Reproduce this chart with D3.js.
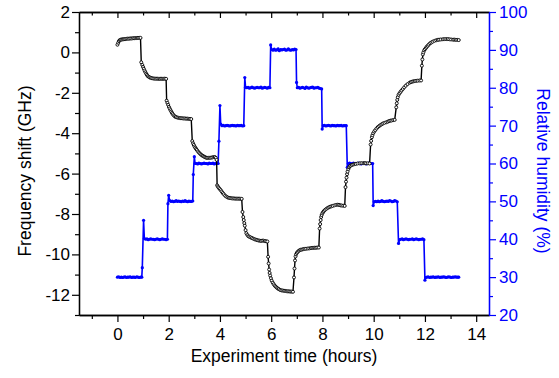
<!DOCTYPE html>
<html><head><meta charset="utf-8">
<script src="https://cdn.jsdelivr.net/npm/d3@7"></script>
<style>
body{margin:0;background:#fff}
svg{display:block}
text{font-family:"Liberation Sans",Arial,Helvetica,sans-serif}
</style>
</head><body>
<svg id="c" width="559" height="378"></svg>
<script>
// ---- data ----
const xTickValues = [0, 2, 4, 6, 8, 10, 12, 14];
const xMinorValues = [-1, 1, 3, 5, 7, 9, 11, 13];
const freqTickValues = [-12, -10, -8, -6, -4, -2, 0, 2];
const freqMinorValues = [-13, -11, -9, -7, -5, -3, -1, 1];
const rhTickValues = [20, 30, 40, 50, 60, 70, 80, 90, 100];
const rhMinorValues = [25, 35, 45, 55, 65, 75, 85, 95];

const xLabel = "Experiment time (hours)";
const freqLabel = "Frequency shift (GHz)";
const rhLabel = "Relative humidity (%)";

// [hours, GHz]
const frequencyShift = [
[0.00,0.38],[0.03,0.48],[0.06,0.56],[0.09,0.61],[0.13,0.63],[0.17,0.64],[0.21,0.65],[0.25,0.65],[0.30,0.66],[0.35,0.67],[0.40,0.68],[0.45,0.68],[0.50,0.69],[0.55,0.69],[0.60,0.70],[0.65,0.70],[0.70,0.71],[0.75,0.71],[0.80,0.72],[0.85,0.72],[0.90,0.72],
[0.93,-0.49],[0.97,-0.62],[1.00,-0.72],[1.03,-0.81],[1.06,-0.90],[1.09,-0.98],[1.12,-1.05],[1.15,-1.11],[1.18,-1.17],[1.22,-1.21],[1.26,-1.24],[1.30,-1.26],[1.35,-1.28],[1.40,-1.29],[1.45,-1.30],[1.50,-1.30],[1.55,-1.30],[1.60,-1.31],[1.65,-1.31],[1.70,-1.30],[1.75,-1.31],[1.80,-1.31],[1.85,-1.30],[1.90,-1.31],
[1.92,-2.39],[1.95,-2.50],[1.98,-2.60],[2.01,-2.70],[2.04,-2.78],[2.07,-2.86],[2.10,-2.93],[2.13,-3.00],[2.16,-3.06],[2.20,-3.12],[2.24,-3.17],[2.28,-3.20],[2.33,-3.22],[2.38,-3.24],[2.43,-3.25],[2.48,-3.26],[2.53,-3.26],[2.58,-3.27],[2.63,-3.27],[2.68,-3.28],[2.73,-3.28],[2.78,-3.29],[2.83,-3.29],[2.88,-3.30],
[2.92,-4.39],[2.95,-4.50],[2.98,-4.58],[3.01,-4.66],[3.04,-4.72],[3.07,-4.78],[3.10,-4.83],[3.14,-4.90],[3.18,-4.96],[3.22,-5.01],[3.26,-5.06],[3.30,-5.10],[3.34,-5.13],[3.38,-5.16],[3.42,-5.19],[3.46,-5.21],[3.50,-5.22],[3.55,-5.22],[3.60,-5.22],[3.65,-5.21],[3.70,-5.20],[3.75,-5.18],[3.80,-5.18],[3.84,-5.22],[3.87,-5.32],
[3.89,-6.58],[3.92,-6.64],[3.95,-6.70],[3.99,-6.76],[4.03,-6.82],[4.07,-6.89],[4.11,-6.96],[4.15,-7.02],[4.20,-7.09],[4.25,-7.14],[4.30,-7.18],[4.35,-7.20],[4.40,-7.21],[4.45,-7.22],[4.50,-7.23],[4.55,-7.23],[4.60,-7.24],[4.65,-7.24],[4.70,-7.24],[4.75,-7.24],[4.80,-7.25],[4.85,-7.25],
[4.88,-7.90],[4.91,-8.15],[4.93,-8.30],[4.95,-8.45],[4.97,-8.58],[5.00,-8.80],[5.03,-8.95],[5.07,-9.04],[5.11,-9.10],[5.15,-9.13],[5.20,-9.16],[5.25,-9.19],[5.30,-9.22],[5.35,-9.25],[5.40,-9.27],[5.45,-9.29],[5.50,-9.31],[5.55,-9.32],[5.60,-9.33],[5.65,-9.32],[5.70,-9.32],[5.75,-9.34],[5.80,-9.35],[5.85,-9.36],
[5.88,-10.12],[5.90,-10.45],[5.92,-10.75],[5.94,-10.92],[5.96,-11.05],[5.99,-11.18],[6.02,-11.30],[6.06,-11.40],[6.10,-11.48],[6.14,-11.55],[6.18,-11.60],[6.22,-11.65],[6.26,-11.69],[6.30,-11.72],[6.35,-11.76],[6.40,-11.78],[6.45,-11.79],[6.50,-11.80],[6.55,-11.81],[6.60,-11.82],[6.65,-11.83],[6.70,-11.83],[6.75,-11.84],[6.80,-11.84],[6.85,-11.85],
[6.89,-11.14],[6.91,-10.70],[6.93,-10.30],[6.95,-10.10],[6.97,-10.00],[7.00,-9.93],[7.03,-9.88],[7.07,-9.83],[7.11,-9.79],[7.15,-9.77],[7.20,-9.76],[7.25,-9.74],[7.30,-9.73],[7.36,-9.72],[7.43,-9.71],[7.49,-9.70],[7.55,-9.69],[7.60,-9.68],[7.65,-9.68],[7.70,-9.67],[7.75,-9.67],[7.80,-9.66],[7.86,-9.66],
[7.89,-8.72],[7.91,-8.50],[7.93,-8.30],[7.95,-8.15],[7.97,-8.05],[8.00,-7.96],[8.03,-7.90],[8.06,-7.85],[8.10,-7.80],[8.15,-7.75],[8.20,-7.70],[8.25,-7.67],[8.30,-7.64],[8.35,-7.62],[8.40,-7.60],[8.47,-7.57],[8.54,-7.55],[8.60,-7.54],[8.65,-7.55],[8.70,-7.57],[8.75,-7.58],[8.81,-7.59],[8.87,-7.60],
[8.90,-6.67],[8.92,-6.40],[8.94,-6.20],[8.96,-6.03],[8.98,-5.90],[9.01,-5.78],[9.04,-5.69],[9.07,-5.64],[9.10,-5.60],[9.15,-5.57],[9.20,-5.55],[9.25,-5.53],[9.30,-5.52],[9.37,-5.50],[9.45,-5.49],[9.52,-5.48],[9.60,-5.48],[9.65,-5.48],[9.70,-5.49],[9.77,-5.49],[9.84,-5.50],
[9.88,-4.56],[9.90,-4.38],[9.93,-4.20],[9.95,-4.10],[9.98,-4.00],[10.02,-3.92],[10.06,-3.85],[10.11,-3.77],[10.16,-3.70],[10.21,-3.65],[10.26,-3.60],[10.31,-3.56],[10.36,-3.52],[10.42,-3.49],[10.49,-3.46],[10.55,-3.43],[10.60,-3.40],[10.65,-3.38],[10.70,-3.37],[10.76,-3.35],[10.82,-3.34],
[10.88,-2.72],[10.90,-2.52],[10.92,-2.35],[10.94,-2.22],[10.97,-2.10],[11.01,-2.02],[11.05,-1.95],[11.09,-1.88],[11.14,-1.81],[11.19,-1.73],[11.25,-1.65],[11.32,-1.57],[11.40,-1.50],[11.45,-1.47],[11.50,-1.45],[11.55,-1.43],[11.60,-1.42],[11.66,-1.41],[11.72,-1.40],[11.79,-1.39],[11.85,-1.39],
[11.88,-0.66],[11.90,-0.35],[11.92,-0.10],[11.94,0.00],[11.97,0.10],[12.00,0.16],[12.04,0.22],[12.07,0.28],[12.11,0.33],[12.15,0.39],[12.20,0.45],[12.25,0.49],[12.30,0.53],[12.37,0.57],[12.44,0.60],[12.50,0.62],[12.55,0.63],[12.62,0.64],[12.70,0.65],[12.76,0.66],[12.83,0.66],[12.89,0.66],[12.95,0.65],[13.02,0.64],[13.10,0.63],[13.15,0.63],[13.20,0.62],[13.26,0.62],[13.32,0.61]
];

// [hours, %RH]
const relativeHumidity = [
[0.00,30.0],[0.05,30.1],[0.10,29.9],[0.15,30.0],[0.20,29.9],[0.25,30.0],[0.30,30.1],[0.35,29.9],[0.40,30.0],[0.45,30.0],[0.50,30.1],[0.55,29.9],[0.60,30.0],[0.65,30.0],[0.70,29.9],[0.75,30.1],[0.80,30.0],[0.85,29.9],[0.90,30.0],[0.95,30.0],
[0.97,32.5],[1.02,45.0],[1.05,40.2],[1.10,40.0],[1.15,40.1],[1.20,39.9],[1.25,40.0],[1.30,40.1],[1.35,40.0],[1.40,40.0],[1.45,39.9],[1.50,40.0],[1.55,40.1],[1.60,40.0],[1.65,39.9],[1.70,40.0],[1.75,40.1],[1.80,40.0],[1.85,40.0],[1.90,39.9],[1.95,40.0],
[1.97,49.4],[2.00,51.6],[2.04,50.2],[2.09,50.0],[2.14,50.1],[2.19,49.9],[2.24,50.0],[2.29,50.2],[2.34,50.0],[2.39,50.1],[2.44,50.0],[2.49,49.9],[2.54,50.1],[2.59,50.0],[2.64,50.2],[2.69,50.0],[2.74,49.9],[2.79,50.1],[2.84,50.0],[2.89,50.0],[2.94,50.1],
[2.96,57.1],[3.00,61.8],[3.03,60.0],[3.08,60.0],[3.13,59.9],[3.18,60.1],[3.23,60.0],[3.28,59.9],[3.33,60.0],[3.38,60.1],[3.43,60.0],[3.48,60.0],[3.53,59.9],[3.58,60.1],[3.63,60.0],[3.68,60.0],[3.73,60.1],[3.78,59.9],[3.83,60.0],[3.88,60.0],[3.93,60.0],
[3.96,65.9],[4.00,75.3],[4.03,70.4],[4.08,70.0],[4.13,70.1],[4.18,69.9],[4.23,70.0],[4.28,70.1],[4.33,70.0],[4.38,69.9],[4.43,70.0],[4.48,70.1],[4.53,70.0],[4.58,70.0],[4.63,69.9],[4.68,70.1],[4.73,70.0],[4.78,70.0],[4.83,70.1],[4.88,69.9],[4.93,70.0],
[4.97,82.7],[5.00,80.1],[5.05,80.0],[5.10,80.1],[5.15,79.9],[5.20,80.0],[5.25,80.2],[5.30,80.0],[5.35,79.9],[5.40,80.0],[5.45,80.1],[5.50,80.0],[5.55,80.0],[5.60,80.2],[5.65,79.9],[5.70,80.0],[5.75,80.1],[5.80,80.0],[5.85,79.9],[5.90,80.1],[5.95,80.0],
[5.98,91.3],[6.02,90.1],[6.07,89.9],[6.12,90.2],[6.17,89.9],[6.22,90.0],[6.27,90.3],[6.32,89.8],[6.37,90.1],[6.42,90.0],[6.47,90.1],[6.52,90.2],[6.57,89.9],[6.62,90.0],[6.67,90.3],[6.72,90.0],[6.77,89.9],[6.82,90.1],[6.87,90.0],[6.92,90.2],[6.97,90.1],
[6.99,81.4],[7.02,80.0],[7.07,80.1],[7.12,79.9],[7.17,80.0],[7.22,80.1],[7.27,80.0],[7.32,79.8],[7.37,80.2],[7.42,80.0],[7.47,79.9],[7.52,80.0],[7.57,80.1],[7.62,80.2],[7.67,79.9],[7.72,80.0],[7.77,80.0],[7.82,80.1],[7.87,79.9],[7.92,79.8],[7.97,79.7],
[7.99,69.1],[8.03,70.0],[8.08,70.1],[8.13,69.9],[8.18,70.0],[8.23,70.1],[8.28,70.0],[8.33,69.9],[8.38,70.1],[8.43,70.0],[8.48,70.0],[8.53,69.9],[8.58,70.1],[8.63,70.0],[8.68,70.0],[8.73,70.1],[8.78,69.9],[8.83,70.0],[8.88,70.0],[8.93,70.0],
[8.97,59.0],[9.01,60.0],[9.06,60.1],[9.11,59.9],[9.16,60.0],[9.21,60.1],[9.26,59.9],[9.31,60.0],[9.36,60.0],[9.41,60.1],[9.46,60.0],[9.51,59.9],[9.56,60.0],[9.61,60.1],[9.66,60.0],[9.71,59.9],[9.76,60.0],[9.81,60.1],[9.86,60.0],[9.91,60.0],[9.96,60.0],
[9.98,48.9],[10.02,49.9],[10.07,50.0],[10.12,49.9],[10.17,50.1],[10.22,49.9],[10.27,50.0],[10.32,50.2],[10.37,50.0],[10.42,49.9],[10.47,50.0],[10.52,50.1],[10.57,50.0],[10.62,50.2],[10.67,50.1],[10.72,49.9],[10.77,50.0],[10.82,50.2],[10.87,50.1],[10.92,49.9],
[10.97,38.9],[11.01,39.9],[11.06,40.0],[11.11,40.1],[11.16,39.9],[11.21,40.0],[11.26,40.1],[11.31,40.0],[11.36,39.9],[11.41,40.0],[11.46,40.0],[11.51,40.1],[11.56,39.9],[11.61,40.0],[11.66,40.1],[11.71,40.0],[11.76,39.9],[11.81,40.0],[11.86,40.0],[11.91,40.1],[11.96,39.9],
[12.00,29.2],[12.03,29.9],[12.08,30.0],[12.13,30.1],[12.18,29.9],[12.23,30.0],[12.28,30.0],[12.33,30.1],[12.38,29.9],[12.43,30.0],[12.48,30.0],[12.53,30.1],[12.58,29.9],[12.63,30.0],[12.68,30.0],[12.73,30.1],[12.78,30.0],[12.83,29.9],[12.88,30.0],[12.93,30.1],[12.98,30.0],[13.03,29.9],[13.08,30.0],[13.13,30.0],[13.18,30.1],[13.23,30.0],[13.28,30.0],[13.32,30.0]
];

// ---- drawing ----
const svg = d3.select("#c");
const L = 79, R = 489, T = 12, B = 315;
const BLUE = "#0000ff";
const x = d3.scaleLinear().domain([-1.5, 14.5]).range([L, R]);
const yF = d3.scaleLinear().domain([-13, 2]).range([B, T]);
const yH = d3.scaleLinear().domain([20, 100]).range([B, T]);
const fmt = d => String(d);

function styleAxis(g, color) {
  g.selectAll("path.domain").attr("stroke", color).attr("stroke-width", 1.3);
  g.selectAll(".tick line").attr("stroke", color).attr("stroke-width", 1.2);
  g.selectAll(".tick text").attr("fill", color).style("font-size", "17px")
    .style("font-family", '"Liberation Sans",Arial,sans-serif');
}

// bottom axis
const gB = svg.append("g").attr("transform", `translate(0,${B})`)
  .call(d3.axisBottom(x).tickValues(xTickValues).tickFormat(fmt).tickSize(7).tickSizeOuter(0).tickPadding(6));
styleAxis(gB, "#000");
const gBm = svg.append("g").attr("transform", `translate(0,${B})`)
  .call(d3.axisBottom(x).tickValues(xMinorValues).tickFormat("").tickSize(4).tickSizeOuter(0));
styleAxis(gBm, "#000");

// top axis (inward ticks)
const gT = svg.append("g").attr("transform", `translate(0,${T})`)
  .call(d3.axisTop(x).tickValues(xTickValues).tickFormat("").tickSize(-6).tickSizeOuter(0));
styleAxis(gT, "#000");
const gTm = svg.append("g").attr("transform", `translate(0,${T})`)
  .call(d3.axisTop(x).tickValues(xMinorValues).tickFormat("").tickSize(-3.5).tickSizeOuter(0));
styleAxis(gTm, "#000");

// left axis
const gL = svg.append("g").attr("transform", `translate(${L},0)`)
  .call(d3.axisLeft(yF).tickValues(freqTickValues).tickFormat(fmt).tickSize(7).tickSizeOuter(0).tickPadding(2));
styleAxis(gL, "#000");
const gLm = svg.append("g").attr("transform", `translate(${L},0)`)
  .call(d3.axisLeft(yF).tickValues(freqMinorValues).tickFormat("").tickSize(4).tickSizeOuter(0));
styleAxis(gLm, "#000");

// right axis (blue)
const gR = svg.append("g").attr("transform", `translate(${R},0)`)
  .call(d3.axisRight(yH).tickValues(rhTickValues).tickFormat(fmt).tickSize(7).tickSizeOuter(0).tickPadding(3));
styleAxis(gR, BLUE);
const gRm = svg.append("g").attr("transform", `translate(${R},0)`)
  .call(d3.axisRight(yH).tickValues(rhMinorValues).tickFormat("").tickSize(4).tickSizeOuter(0));
styleAxis(gRm, BLUE);

// series: humidity (blue)
const lineH = d3.line().x(d => x(d[0])).y(d => yH(d[1]));
svg.append("path").datum(relativeHumidity).attr("d", lineH)
  .attr("fill", "none").attr("stroke", BLUE).attr("stroke-width", 1.6);
svg.append("g").selectAll("circle").data(relativeHumidity).join("circle")
  .attr("cx", d => x(d[0])).attr("cy", d => yH(d[1])).attr("r", 1.6).attr("fill", BLUE);

// series: frequency shift (black)
const lineF = d3.line().x(d => x(d[0])).y(d => yF(d[1]));
svg.append("path").datum(frequencyShift).attr("d", lineF)
  .attr("fill", "none").attr("stroke", "#000").attr("stroke-width", 1.4);
svg.append("g").selectAll("circle").data(frequencyShift).join("circle")
  .attr("cx", d => x(d[0])).attr("cy", d => yF(d[1])).attr("r", 1.5)
  .attr("fill", "#fff").attr("stroke", "#000").attr("stroke-width", 0.9);

// axis titles
svg.append("text").attr("x", (L + R) / 2).attr("y", 362).attr("text-anchor", "middle")
  .style("font-size", "17.5px").attr("fill", "#000").text(xLabel);
svg.append("text").attr("transform", "translate(31,171) rotate(-90)").attr("text-anchor", "middle")
  .style("font-size", "17.5px").attr("fill", "#000").text(freqLabel);
svg.append("text").attr("transform", "translate(537,171) rotate(90)").attr("text-anchor", "middle")
  .style("font-size", "17.5px").attr("fill", BLUE).text(rhLabel);
</script>
</body></html>
